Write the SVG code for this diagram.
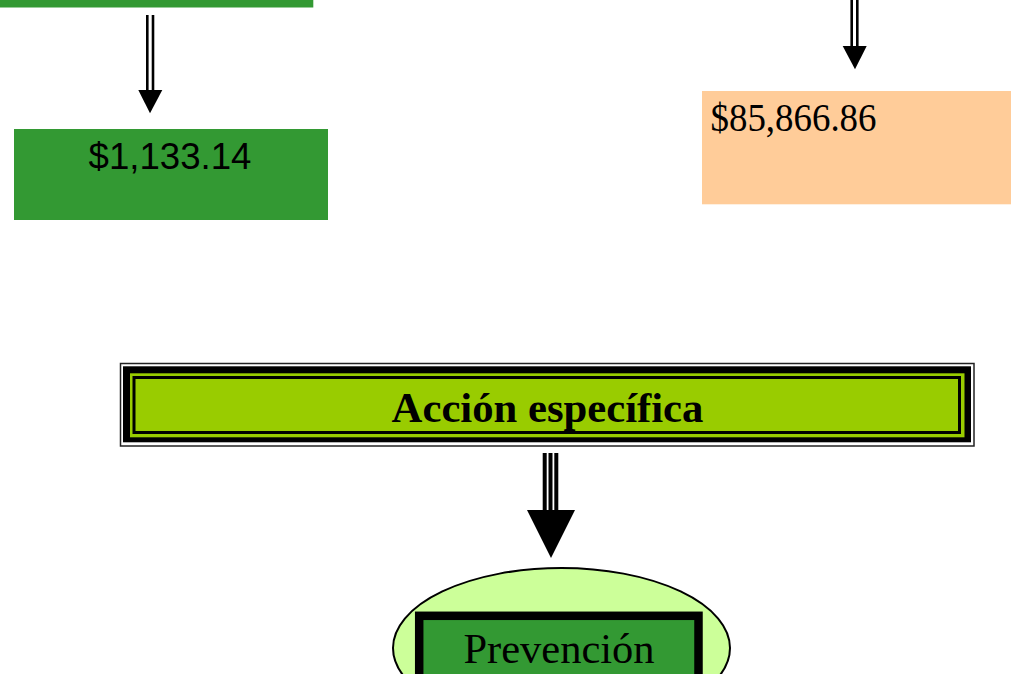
<svg xmlns="http://www.w3.org/2000/svg" width="1011" height="674" viewBox="0 0 1011 674">
<style>
.serif{font-family:"Liberation Serif","Times New Roman",serif;fill:#000}
.sans{font-family:"Liberation Sans",Arial,sans-serif;fill:#000}
.shaft{stroke:#000;stroke-width:2.6;fill:none}
.head{fill:#000}
</style>
<rect width="1011" height="674" fill="#fff"/>
<g id="node-top-left">
<rect x="0" y="-20" width="313.3" height="27.5" fill="#339933"/>
</g>
<g id="node-1133">
<rect x="14" y="129" width="314" height="91" fill="#339933"/>
<text class="sans" x="170" y="168.5" font-size="36" text-anchor="middle" textLength="163" lengthAdjust="spacingAndGlyphs">$1,133.14</text>
</g>
<g id="node-85866">
<rect x="702" y="91" width="309" height="113.3" fill="#FFCC99"/>
<text class="serif" x="710.5" y="131" font-size="39" textLength="166" lengthAdjust="spacingAndGlyphs">$85,866.86</text>
</g>
<g id="node-accion">
<rect x="120.5" y="363.5" width="853.5" height="82.5" fill="#fff" stroke="#222" stroke-width="1.5"/>
<rect x="123" y="366.3" width="848" height="76" fill="#000"/>
<rect x="130" y="373.3" width="834.5" height="64" fill="#99CC00"/>
<rect x="134" y="377.5" width="825.5" height="55" fill="#99CC00" stroke="#000" stroke-width="3"/>
<text class="serif" x="547.5" y="422" font-size="42.7" font-weight="bold" text-anchor="middle">Acción específica</text>
</g>
<g id="node-prevencion">
<ellipse cx="561.5" cy="648" rx="168.5" ry="80" fill="#CCFF99" stroke="#000" stroke-width="2"/>
<rect x="419.2" y="615.8" width="279.3" height="80" fill="#339933" stroke="#000" stroke-width="8.5"/>
<text class="serif" x="559" y="663" font-size="42.5" text-anchor="middle">Prevención</text>
</g>
<g id="connectors">
<g id="arrow-left">
<line class="shaft" x1="147.3" y1="15" x2="147.3" y2="91"/>
<line class="shaft" x1="153" y1="15" x2="153" y2="91"/>
<polygon class="head" points="138.3,90 162.3,90 150,113.3"/>
</g>
<g id="arrow-right">
<line class="shaft" x1="851.7" y1="0" x2="851.7" y2="47"/>
<line class="shaft" x1="857.3" y1="0" x2="857.3" y2="47"/>
<polygon class="head" points="842.7,46 866.7,46 855,69.3"/>
</g>
<g id="arrow-bottom">
<line x1="544.7" y1="453" x2="544.7" y2="511" stroke="#000" stroke-width="4"/>
<line x1="550.5" y1="453" x2="550.5" y2="511" stroke="#000" stroke-width="4"/>
<line x1="556.3" y1="453" x2="556.3" y2="511" stroke="#000" stroke-width="4"/>
<polygon class="head" points="527,510 575,510 551,558"/>
</g>
</g>
</svg>
